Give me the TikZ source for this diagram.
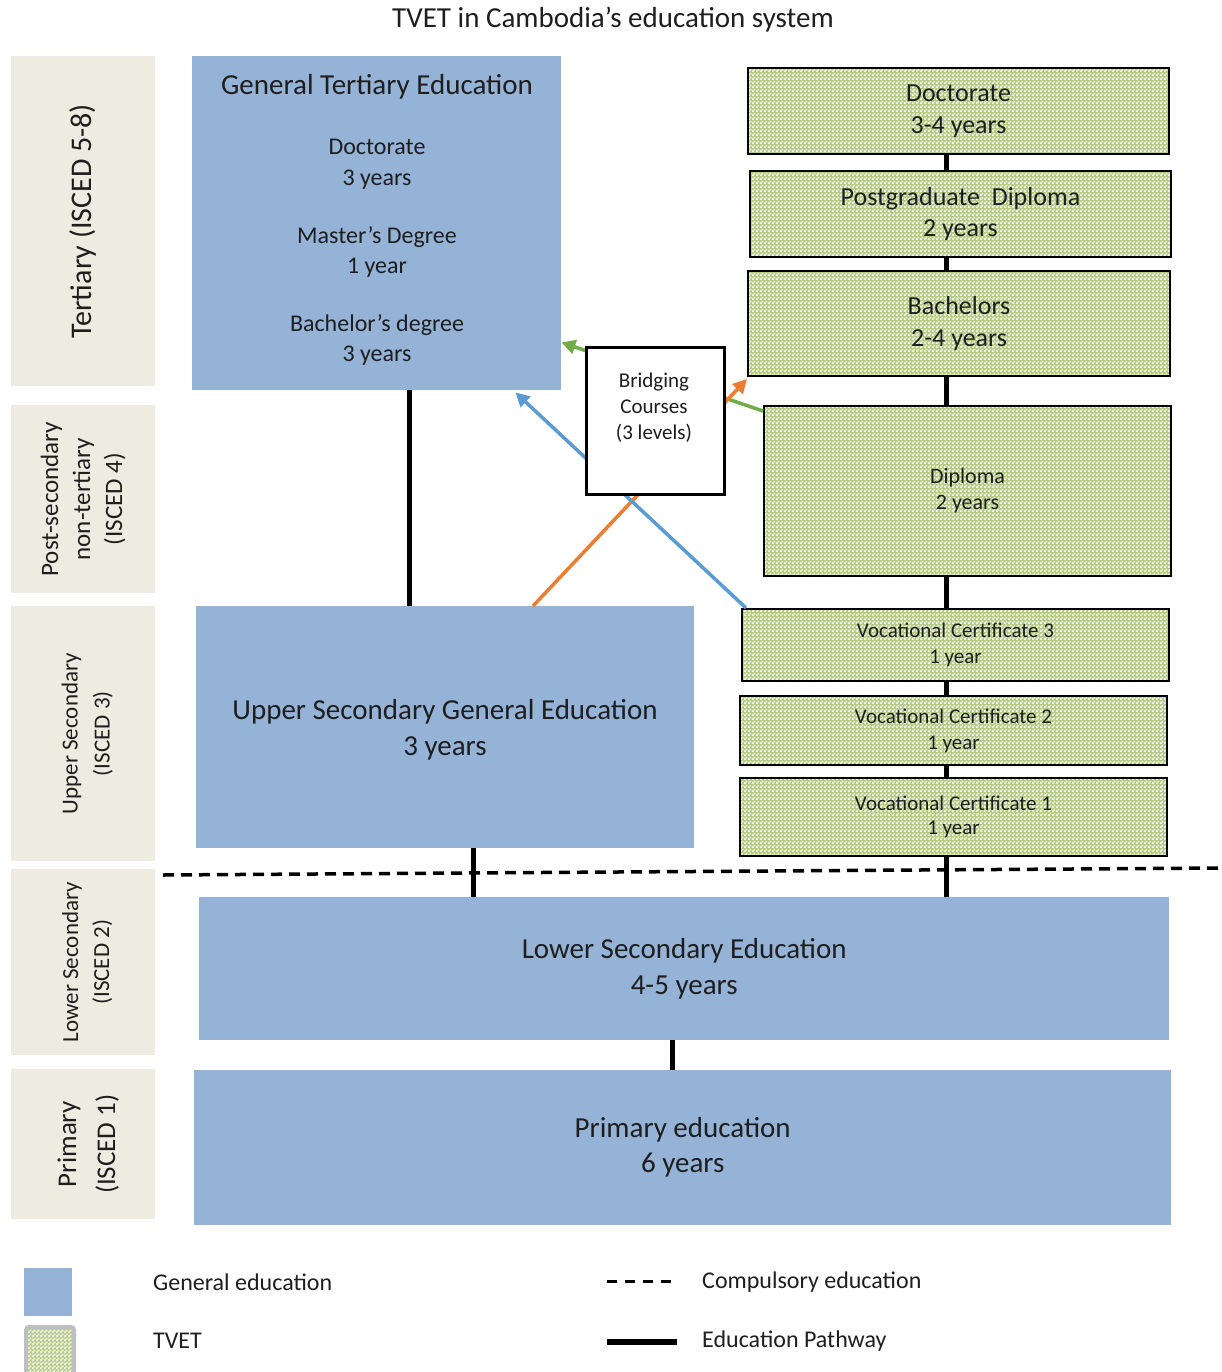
\documentclass[tikz,border=0pt]{standalone}
\usepackage{fontspec}
\setmainfont{Carlito}
\usetikzlibrary{arrows.meta,patterns}
\pgfdeclarepatternformonly{tvetcheck}{\pgfqpoint{0pt}{0pt}}{\pgfqpoint{4pt}{4pt}}{\pgfqpoint{4pt}{4pt}}{%
  \pgfpathrectangle{\pgfqpoint{0pt}{0pt}}{\pgfqpoint{2pt}{2pt}}%
  \pgfpathrectangle{\pgfqpoint{2pt}{2pt}}{\pgfqpoint{2pt}{2pt}}%
  \pgfusepath{fill}}
\newcommand{\fsz}[2]{\fontsize{#1}{#2}\selectfont}
\definecolor{genblue}{HTML}{95B3D7}
\definecolor{lvlbeige}{HTML}{EEECE1}
\definecolor{tvetgreen}{HTML}{B3CC80}
\definecolor{arrgreen}{HTML}{70AD47}
\definecolor{arrorange}{HTML}{ED7D31}
\definecolor{arrblue}{HTML}{5B9BD5}
\definecolor{txtc}{HTML}{1E1E1E}
\tikzset{
  lvl/.style={fill=lvlbeige, draw=none, inner sep=0pt, anchor=north west},
  lvltext/.style={rotate=90, align=center, text=txtc},
  genbox/.style={fill=genblue, draw=none, inner sep=0pt, anchor=north west, align=center, text=txtc},
  tvetfill/.style={preaction={fill=tvetgreen}, preaction={pattern=tvetcheck, pattern color=white}},
  tvetbox/.style={tvetfill, draw=black, line width=2pt, inner sep=0pt, anchor=north west, align=center, text=txtc},
  bridgebox/.style={fill=white, draw=black, line width=2.5pt, inner sep=0pt, anchor=north west},
  txt/.style={text=txtc, align=center, inner sep=0pt},
  pathline/.style={line width=5pt, draw=black},
  dashline/.style={line width=3.5pt, draw=black, dash pattern=on 11pt off 7pt},
  arr/.style={line width=3.5pt, -{Triangle[length=14pt,width=14pt]}},
}
\begin{document}
\begin{tikzpicture}[x=1pt,y=-1pt]
\useasboundingbox (0,0) rectangle (1222,1372);

% title
\node[txt, font=\fsz{29}{32}] (title) at (613,20) {TVET in Cambodia’s education system};

% level boxes
\node[lvl, minimum width=144, minimum height=330] (l1) at (11,56) {};
\node[lvl, minimum width=144, minimum height=188] (l2) at (11,405) {};
\node[lvl, minimum width=144, minimum height=255] (l3) at (11,606) {};
\node[lvl, minimum width=144, minimum height=186] (l4) at (11,869) {};
\node[lvl, minimum width=144, minimum height=150] (l5) at (11,1069) {};
\node[lvltext, font=\fsz{30}{34}] (l1t) at (l1.center) {Tertiary (ISCED 5-8)};
\node[lvltext, font=\fsz{25}{32}] (l2t) at (l2.center) {Post-secondary\\non-tertiary\\(ISCED 4)};
\node[lvltext, font=\fsz{23}{32}] (l3t) at ([xshift=4pt]l3.center) {Upper Secondary\\(ISCED 3)};
\node[lvltext, font=\fsz{23}{31}] (l4t) at ([xshift=4pt]l4.center) {Lower Secondary\\(ISCED 2)};
\node[lvltext, font=\fsz{27}{39}] (l5t) at ([xshift=5pt]l5.center) {Primary\\(ISCED 1)};

% general education boxes
\node[genbox, minimum width=369, minimum height=334] (gte) at (192,56) {};
\node[txt, font=\fsz{29}{32}] (gtet) at (377,87) {General Tertiary Education};
\node[txt, font=\fsz{24}{31}] (gte1) at (377,164) {Doctorate\\3 years};
\node[txt, font=\fsz{24}{30}] (gte2) at (377,252) {Master’s Degree\\1 year};
\node[txt, font=\fsz{24}{30}] (gte3) at (377,340) {Bachelor’s degree\\3 years};

\node[genbox, minimum width=498, minimum height=242] (ups) at (196,606) {};
\node[txt, font=\fsz{29}{36}] (upst) at (445,730) {Upper Secondary General Education\\3 years};
\node[genbox, minimum width=970, minimum height=143, font=\fsz{29}{36}] (los) at (199,897) {Lower Secondary Education\\4-5 years};
\node[genbox, minimum width=977, minimum height=155, font=\fsz{29}{35}] (prim) at (194,1070) {Primary education\\6 years};

% TVET boxes
\node[tvetbox, minimum width=421, minimum height=86, font=\fsz{26}{32}] (doc) at (747,67) {Doctorate\\3-4 years};
\node[tvetbox, minimum width=421, minimum height=86, font=\fsz{26}{31}] (pg) at (749,170) {Postgraduate\ \ Diploma\\2 years};
\node[tvetbox, minimum width=422, minimum height=105, font=\fsz{26}{32}] (bach) at (747,270) {Bachelors\\2-4 years};
\node[tvetbox, minimum width=407, minimum height=170, font=\fsz{22}{26}] (dip) at (763,405) {Diploma\\2 years};
\node[tvetbox, minimum width=427, minimum height=72, font=\fsz{21}{26}] (vc3) at (741,608) {Vocational Certificate 3\\1 year};
\node[tvetbox, minimum width=427, minimum height=69, font=\fsz{21}{26}] (vc2) at (739,695) {Vocational Certificate 2\\1 year};
\node[tvetbox, minimum width=427, minimum height=78, font=\fsz{21}{24}] (vc1) at (739,777) {Vocational Certificate 1\\1 year};

% pathway lines
\coordinate (gx) at (409,0);
\coordinate (tx) at (946,0);
\coordinate (ux) at (473,0);
\coordinate (lx) at (672,0);
\draw[pathline] (gte.south -| gx) -- (ups.north -| gx);
\draw[pathline] (doc.south -| tx) -- (pg.north -| tx);
\draw[pathline] (pg.south -| tx) -- (bach.north -| tx);
\draw[pathline] (bach.south -| tx) -- (dip.north -| tx);
\draw[pathline] (dip.south -| tx) -- (vc3.north -| tx);
\draw[pathline] (vc3.south -| tx) -- (vc2.north -| tx);
\draw[pathline] (vc2.south -| tx) -- (vc1.north -| tx);
\draw[pathline] (vc1.south -| tx) -- (los.north -| tx);
\draw[pathline] (ups.south -| ux) -- (los.north -| ux);
\draw[pathline] (los.south -| lx) -- (prim.north -| lx);

% compulsory education line
\coordinate (dl) at (163,875);
\coordinate (dr) at (1222,868);
\draw[dashline] (dl) -- (dr);

% bridging arrows
\draw[arr, draw=arrgreen, fill=arrgreen] ([yshift=-6pt]dip.north west) -- ([yshift=48pt]gte.south east);
\draw[arr, draw=arrorange, fill=arrorange] ([xshift=337pt]ups.north west) -- ([yshift=-2pt]bach.south west);
\draw[arr, draw=arrblue, fill=arrblue] ([xshift=5pt]vc3.north west) -- ([xshift=-46pt,yshift=-2pt]gte.south east);

% bridging box
\node[bridgebox, minimum width=138, minimum height=147] (br) at (585,346) {};
\node[txt, font=\fsz{21}{26}] (brt) at (654,408) {Bridging\\Courses\\(3 levels)};

% legend
\node[genbox, minimum width=48, minimum height=48] (lg1) at (24,1268) {};
\node[tvetfill, draw=black!25, line width=4pt, rounded corners=3pt, inner sep=0pt, anchor=north west, minimum width=48, minimum height=56] (lg2) at (24,1325) {};
\node[txt, anchor=west, font=\fsz{24}{28}] (lg1t) at (153,1282) {General education};
\node[txt, anchor=west, font=\fsz{24}{28}] (lg2t) at (153,1341) {TVET};
\coordinate (ld1) at (607,1281);
\coordinate (ld2) at (676,1281);
\draw[line width=3pt, dash pattern=on 10pt off 8pt] (ld1) -- (ld2);
\coordinate (ls1) at (607,1342);
\coordinate (ls2) at (677,1342);
\draw[line width=6pt] (ls1) -- (ls2);
\node[txt, anchor=west, font=\fsz{24}{28}] (lg3t) at (702,1282) {Compulsory education};
\node[txt, anchor=west, font=\fsz{24}{28}] (lg4t) at (702,1341) {Education Pathway};
\end{tikzpicture}
\end{document}
